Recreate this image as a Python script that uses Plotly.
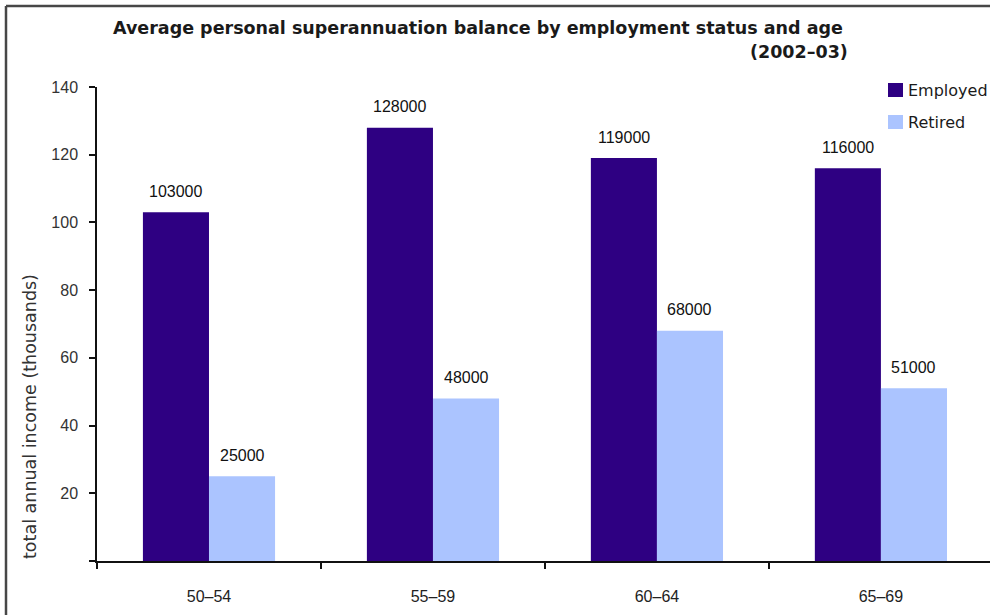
import plotly.graph_objects as go

# Average personal superannuation balance, in thousands of dollars
age_groups = ["50–54", "55–59", "60–64", "65–69"]
employed = [103, 128, 119, 116]
retired = [25, 48, 68, 51]
y_ticks = [0, 20, 40, 60, 80, 100, 120, 140]
y_tick_text = ["", "20", "40", "60", "80", "100", "120", "140"]

EMPLOYED_COLOR = "#2e0082"
RETIRED_COLOR = "#abc4ff"
TEXT_FONT = "Liberation Sans, Arial, sans-serif"
WIDE_FONT = "DejaVu Sans, sans-serif"

W, H = 990, 615
L, R, T, B = 97, 0, 87, 54
plot_w = W - L - R
plot_h = H - T - B

X_RANGE = [-0.5, 3.487]
bargap = 0.41

fig = go.Figure()
fig.add_trace(go.Bar(name="Employed", x=age_groups, y=employed,
                     marker=dict(color=EMPLOYED_COLOR, line=dict(width=0))))
fig.add_trace(go.Bar(name="Retired", x=age_groups, y=retired,
                     marker=dict(color=RETIRED_COLOR, line=dict(width=0))))

# horizontal offset of each bar's centre from the category centre, in px
unit_px = plot_w / (X_RANGE[1] - X_RANGE[0])
bar_px = unit_px * (1 - bargap) / 2

annotations = []
for series, shift in ((employed, -bar_px / 2), (retired, bar_px / 2)):
    for cat, v in zip(age_groups, series):
        annotations.append(dict(
            x=cat, y=v, xref="x", yref="y", text=f"{v * 1000}",
            showarrow=False, xshift=shift, yshift=21, yanchor="middle",
            font=dict(family=TEXT_FONT, size=16, color="#111111")))

def px_x(px):
    return (px - L) / plot_w

def px_y(py):
    return (H - B - py) / plot_h

title_font = dict(family=WIDE_FONT, size=17.5, color="#1a1a1a", weight="bold")
annotations.append(dict(
    x=px_x(478), y=px_y(28), xref="paper", yref="paper",
    text="Average personal superannuation balance by employment status and age",
    showarrow=False, xanchor="center", yanchor="middle", font=title_font))
annotations.append(dict(
    x=px_x(850), y=px_y(52), xref="paper", yref="paper",
    text="(2002–03)",
    showarrow=False, xanchor="right", yanchor="middle", font=title_font))

# y-axis title
annotations.append(dict(
    x=px_x(30), y=px_y(417), xref="paper", yref="paper",
    text="total annual income (thousands)", textangle=-90, showarrow=False,
    xanchor="center", yanchor="middle",
    font=dict(family=WIDE_FONT, size=17.5, color="#333333")))

# legend entries
shapes = []
for i, (name, color) in enumerate((("Employed", EMPLOYED_COLOR), ("Retired", RETIRED_COLOR))):
    cy = 90 + 32 * i
    shapes.append(dict(type="rect", xref="paper", yref="paper",
                       x0=px_x(888), x1=px_x(903), y0=px_y(cy - 7), y1=px_y(cy + 7),
                       fillcolor=color, line=dict(width=0)))
    annotations.append(dict(
        x=px_x(906), y=px_y(cy), xref="paper", yref="paper", text=name,
        showarrow=False, xanchor="left", yanchor="middle",
        font=dict(family=WIDE_FONT, size=16, color="#1a1a1a")))

# outer frame (top and left edges)
frame = dict(color="#474747", width=2.5)
shapes.append(dict(type="line", xref="paper", yref="paper",
                   x0=px_x(6), x1=px_x(W + 5), y0=px_y(6), y1=px_y(6), line=frame))
shapes.append(dict(type="line", xref="paper", yref="paper",
                   x0=px_x(6), x1=px_x(6), y0=px_y(6), y1=px_y(H + 5), line=frame))

fig.update_layout(
    width=W, height=H,
    margin=dict(l=L, r=R, t=T, b=B, pad=0),
    paper_bgcolor="white", plot_bgcolor="white",
    barmode="group", bargap=bargap, bargroupgap=0,
    showlegend=False,
    annotations=annotations, shapes=shapes,
    font=dict(family=TEXT_FONT, color="#222222"),
)
fig.update_xaxes(
    type="category", range=X_RANGE,
    showline=True, linecolor="#111111", linewidth=1.5,
    ticks="outside", tickson="boundaries", ticklen=6, tickwidth=1.5, tickcolor="#111111",
    ticklabelstandoff=20, tickfont=dict(family=TEXT_FONT, size=16, color="#222222"),
    showgrid=False, zeroline=False,
)
fig.update_yaxes(
    range=[0, 140], tickvals=y_ticks, ticktext=y_tick_text,
    showline=True, linecolor="#111111", linewidth=1.5,
    ticks="outside", ticklen=6, tickwidth=1.5, tickcolor="#111111",
    ticklabelstandoff=8, tickfont=dict(family=TEXT_FONT, size=16, color="#333333"),
    showgrid=False, zeroline=False,
)

fig.write_html("out.html")
